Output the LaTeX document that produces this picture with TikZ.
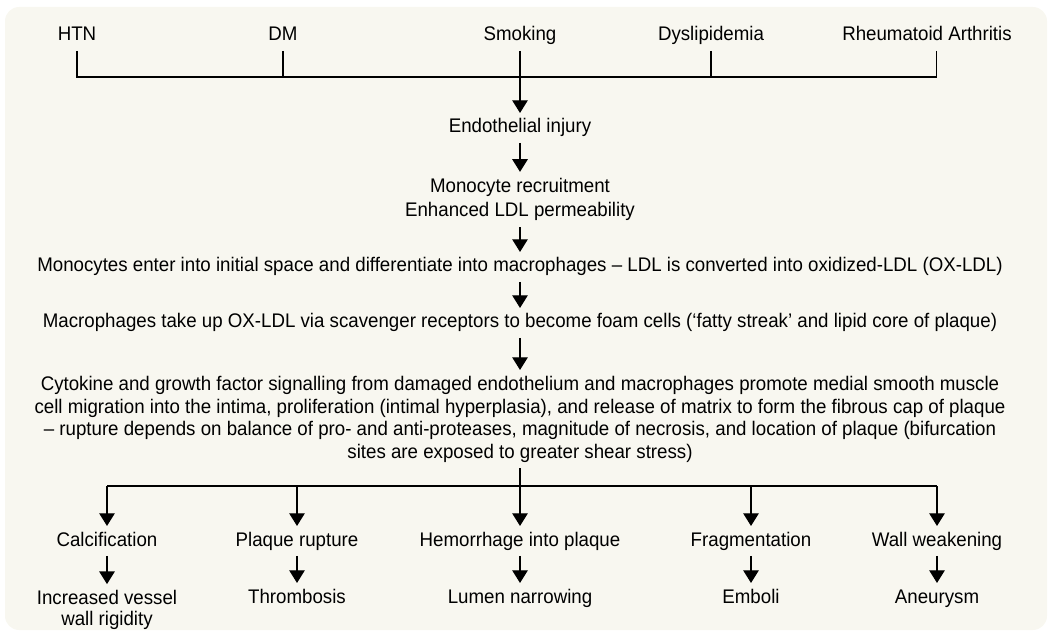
\documentclass[tikz,border=0pt]{standalone}
\usepackage{fontspec}
\setmainfont{Liberation Sans}[FakeStretch=0.95]
\usetikzlibrary{arrows.meta}
\definecolor{bgcream}{HTML}{F8F7F0}

\begin{document}
\begin{tikzpicture}[x=0.025cm,y=-0.025cm,>={Triangle[width=11pt,length=9pt]},
 font=\fontsize{14}{16}\selectfont,line width=0.9pt,
 step box/.style={anchor=base,align=center,inner xsep=0pt,inner ysep=4pt},
 one line/.style={step box,text height=9.8pt,text depth=2.5pt}]
\useasboundingbox (0,0) rectangle (1050,635);
\fill[bgcream,rounded corners=10pt] (5,7) rectangle (1047,630);
% risk factors
\node[one line] (htn) at (77,41) {HTN};
\node[one line] (dm) at (283,41) {DM};
\node[one line] (smk) at (520,41) {Smoking};
\node[one line] (dys) at (711,41) {Dyslipidemia};
\node[one line] (ra) at (927,41) {Rheumatoid Arthritis};
\coordinate (j) at (520,77);
% main chain (multi-line nodes sit on their last line)
\node[one line] (inj) at (520,133) {Endothelial injury};
\node[step box] (mono) at (520,217) {Monocyte recruitment\\[1.5pt]Enhanced LDL permeability};
\node[one line] (enter) at (520,272) {Monocytes enter into initial space and differentiate into macrophages – LDL is converted into oxidized-LDL (OX-LDL)};
\node[one line] (foam) at (520,328) {Macrophages take up OX-LDL via scavenger receptors to become foam cells (‘fatty streak’ and lipid core of plaque)};
\node[step box] (cyto) at (520,458) {Cytokine and growth factor signalling from damaged endothelium and macrophages promote medial smooth muscle\\
 cell migration into the intima, proliferation (intimal hyperplasia), and release of matrix to form the fibrous cap of plaque\\
 – rupture depends on balance of pro- and anti-proteases, magnitude of necrosis, and location of plaque (bifurcation\\
 sites are exposed to greater shear stress)};
\coordinate (k) at (520,486);
% outcomes
\node[one line] (calc) at (107,546) {Calcification};
\node[one line] (rup) at (297,546) {Plaque rupture};
\node[one line] (hem) at (520,546) {Hemorrhage into plaque};
\node[one line] (frag) at (751,546) {Fragmentation};
\node[one line] (wall) at (937,546) {Wall weakening};
\node[step box] (rig) at (107,625) {Increased vessel\\[-1.5pt]wall rigidity};
\node[one line] (thr) at (297,603) {Thrombosis};
\node[one line] (lum) at (520,603) {Lumen narrowing};
\node[one line] (emb) at (751,603) {Emboli};
\node[one line] (aneu) at (937,603) {Aneurysm};

\draw (htn.south) |- ([xshift=7pt]ra.south |- j);
\draw (dm.south) -- (j -| dm);
\draw (smk.south) -- (j);
\draw (dys.south) -- (j -| dys);
\draw ([xshift=7pt]ra.south) -- ([xshift=7pt]ra.south |- j);
\path[->]
 (j) edge (inj)
 (inj) edge (mono)
 (mono) edge (enter)
 (enter) edge (foam)
 (foam) edge (cyto)
 (cyto) edge (hem);
\draw (k -| calc) -- (k -| wall);
\path[->]
 (k -| calc) edge (calc)
 (k -| rup) edge (rup)
 (k -| frag) edge (frag)
 (k -| wall) edge (wall)
 (calc) edge (rig)
 (rup) edge (thr)
 (hem) edge (lum)
 (frag) edge (emb)
 (wall) edge (aneu);
\end{tikzpicture}
\end{document}
